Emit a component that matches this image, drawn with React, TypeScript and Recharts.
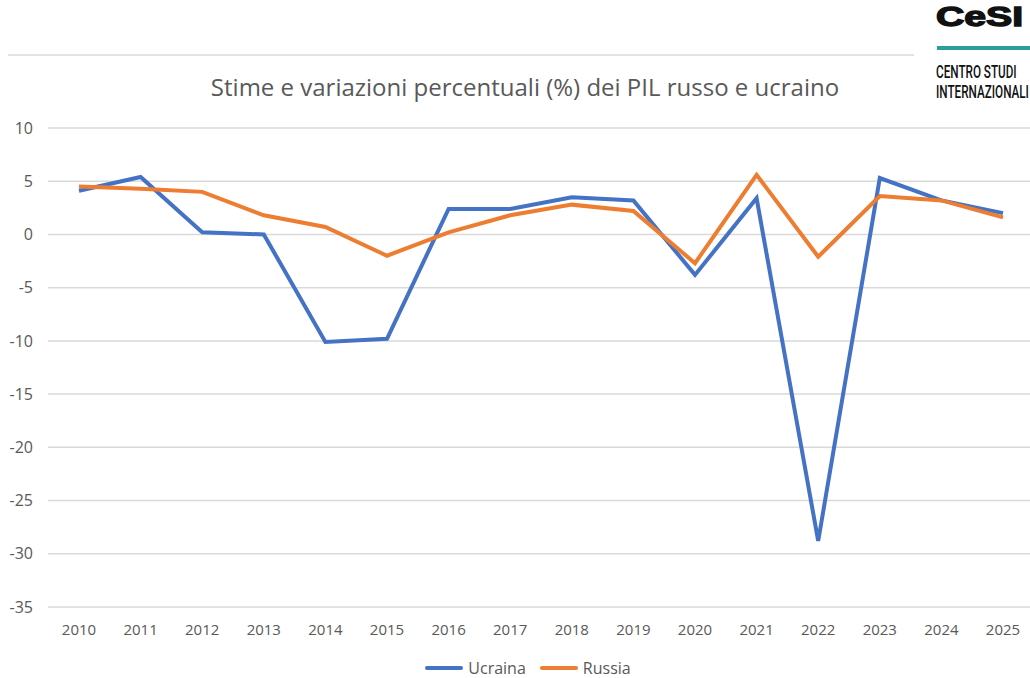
import { LineChart, Line, XAxis, YAxis, CartesianGrid, Legend } from "recharts";

// Stime e variazioni % del PIL, Ucraina vs Russia (2010-2025)

const years = ["2010", "2011", "2012", "2013", "2014", "2015", "2016", "2017",
  "2018", "2019", "2020", "2021", "2022", "2023", "2024", "2025"];
const ucraina = [4.1, 5.4, 0.2, 0.0, -10.1, -9.8, 2.4, 2.4, 3.5, 3.2, -3.8, 3.4, -28.8, 5.3, 3.2, 2.0];
const russia = [4.5, 4.3, 4.0, 1.8, 0.7, -2.0, 0.2, 1.8, 2.8, 2.2, -2.7, 5.6, -2.1, 3.6, 3.2, 1.6];
const yTicks = [-35, -30, -25, -20, -15, -10, -5, 0, 5, 10];

const data = years.map((year, i) => ({ year, ucraina: ucraina[i], russia: russia[i] }));

const gray = "#595959";
const font = "'Open Sans', Calibri, sans-serif";

function LegendBox() {
  const item = (color: string, label: string) => (
    <span style={{ display: "inline-flex", alignItems: "center", margin: "0 7px" }}>
      <span style={{ width: 38, height: 4, background: color, borderRadius: 2, marginRight: 5 }} />
      <span style={{ fontSize: 16, lineHeight: "20px", color: gray, fontFamily: font }}>{label}</span>
    </span>
  );
  return (
    <div style={{ display: "flex", justifyContent: "center", alignItems: "flex-end", height: 26, paddingLeft: 22, boxSizing: "border-box", paddingBottom: 0 }}>
      {item("#4472C4", "Ucraina")}
      {item("#ED7D31", "Russia")}
    </div>
  );
}

export default function App() {
  return (
    <div style={{ position: "absolute", left: 0, top: 0, width: 1030, height: 678, overflow: "hidden", background: "#fff" }}>
      <div style={{ position: "absolute", left: 8, top: 54, width: 906, height: 2, background: "#e3e3e3" }} />
      <div style={{ position: "absolute", left: 0, top: 70, width: 1050, textAlign: "center", fontFamily: font, fontSize: 24, color: gray }}>
        Stime e variazioni percentuali (%) dei PIL russo e ucraino
      </div>

      <div style={{ position: "absolute", left: 936, top: 1, fontFamily: "'Liberation Sans', Arial, sans-serif", fontWeight: 900, fontSize: 28, color: "#111", whiteSpace: "nowrap", transform: "scaleX(1.4)", transformOrigin: "left top", WebkitTextStroke: "1.4px #111" }}>
        CeSI
      </div>
      <div style={{ position: "absolute", left: 937, top: 46, width: 100, height: 4, background: "#2a9ea3" }} />
      <div style={{ position: "absolute", left: 936, top: 62, fontFamily: "Roboto, 'DejaVu Sans', sans-serif", fontWeight: 500, fontSize: 18, lineHeight: "20px", color: "#111", whiteSpace: "nowrap", transform: "scaleX(0.65)", transformOrigin: "left top" }}>
        CENTRO STUDI<br />INTERNAZIONALI
      </div>

      <LineChart width={1034} height={678} data={data} margin={{ top: 128, right: 0, bottom: 0, left: 0 }}>
        <CartesianGrid vertical={false} stroke="#d9d9d9" strokeWidth={1.5} />
        <XAxis dataKey="year" axisLine={false} tickLine={false} tickSize={0} tickMargin={17} height={45} interval={0}
          padding={{ left: 31, right: 31 }} tick={{ fontSize: 15, fill: gray, fontFamily: font }} />
        <YAxis domain={[-35, 10]} ticks={yTicks} axisLine={false} tickLine={false} tickSize={0} tickMargin={15} width={48}
          tick={{ fontSize: 16, fill: gray, fontFamily: font }} />
        <Legend verticalAlign="bottom" height={26} wrapperStyle={{ bottom: 0 }} content={() => <LegendBox />} />
        <Line type="linear" dataKey="ucraina" name="Ucraina" stroke="#4472C4" strokeWidth={4} dot={false} isAnimationActive={false} />
        <Line type="linear" dataKey="russia" name="Russia" stroke="#ED7D31" strokeWidth={4} dot={false} isAnimationActive={false} />
      </LineChart>
    </div>
  );
}
